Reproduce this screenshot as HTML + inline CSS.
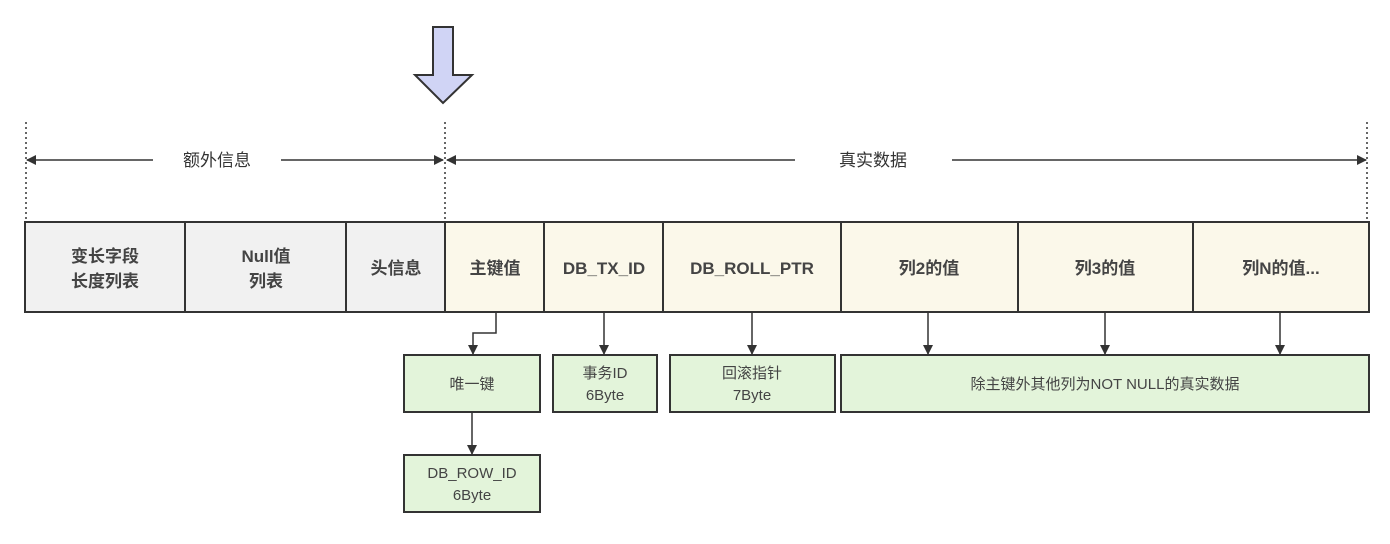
<!DOCTYPE html>
<html><head><meta charset="utf-8"><style>
body{margin:0;background:#fff;}
svg text{font-family:"Liberation Sans","Noto Sans CJK SC",sans-serif;}
</style></head><body>
<svg width="1390" height="539" viewBox="0 0 1390 539" xmlns="http://www.w3.org/2000/svg">
<defs><marker id="a" markerWidth="10" markerHeight="10" refX="9" refY="5" orient="auto" markerUnits="userSpaceOnUse"><path d="M0,0 L10,5 L0,10 Z" fill="#333"/></marker></defs>
<!-- big arrow -->
<path d="M433,27 L453,27 L453,75 L472,75 L443,103 L415,75 L433,75 Z" fill="#d0d4f5" stroke="#333" stroke-width="2"/>
<!-- dotted lines -->
<g stroke="#333" stroke-width="1.5" stroke-dasharray="2,3">
<line x1="26" y1="122" x2="26" y2="222"/><line x1="445" y1="122" x2="445" y2="222"/><line x1="1367" y1="122" x2="1367" y2="222"/>
</g>
<g stroke="#333" stroke-width="1.5" fill="none">
<line x1="153" y1="160" x2="27" y2="160" marker-end="url(#a)"/>
<line x1="281" y1="160" x2="443" y2="160" marker-end="url(#a)"/>
<line x1="795" y1="160" x2="447" y2="160" marker-end="url(#a)"/>
<line x1="952" y1="160" x2="1366" y2="160" marker-end="url(#a)"/>
</g>
<g font-size="17" fill="#333" text-anchor="middle">
<text x="217" y="166">额外信息</text><text x="873" y="166">真实数据</text>
</g>
<!-- top boxes -->
<g stroke="#333" stroke-width="2">
<rect x="25" y="222" width="160" height="90" fill="#f1f1f1"/>
<rect x="185" y="222" width="161" height="90" fill="#f1f1f1"/>
<rect x="346" y="222" width="99" height="90" fill="#f1f1f1"/>
<rect x="445" y="222" width="99" height="90" fill="#fbf8ea"/>
<rect x="544" y="222" width="119" height="90" fill="#fbf8ea"/>
<rect x="663" y="222" width="178" height="90" fill="#fbf8ea"/>
<rect x="841" y="222" width="177" height="90" fill="#fbf8ea"/>
<rect x="1018" y="222" width="175" height="90" fill="#fbf8ea"/>
<rect x="1193" y="222" width="176" height="90" fill="#fbf8ea"/>
</g>
<g font-size="17" font-weight="bold" fill="#444" text-anchor="middle">
<text x="105" y="262">变长字段</text><text x="105" y="287">长度列表</text>
<text x="266" y="262">Null值</text><text x="266" y="287">列表</text>
<text x="396" y="274">头信息</text><text x="495" y="274">主键值</text>
<text x="604" y="274">DB_TX_ID</text><text x="752" y="274">DB_ROLL_PTR</text>
<text x="929" y="274">列2的值</text><text x="1105" y="274">列3的值</text><text x="1281" y="274">列N的值...</text>
</g>
<!-- connectors -->
<g stroke="#333" stroke-width="1.5" fill="none">
<polyline points="496,312 496,333 473,333 473,354" marker-end="url(#a)"/>
<line x1="604" y1="312" x2="604" y2="354" marker-end="url(#a)"/>
<line x1="752" y1="312" x2="752" y2="354" marker-end="url(#a)"/>
<line x1="928" y1="312" x2="928" y2="354" marker-end="url(#a)"/>
<line x1="1105" y1="312" x2="1105" y2="354" marker-end="url(#a)"/>
<line x1="1280" y1="312" x2="1280" y2="354" marker-end="url(#a)"/>
<line x1="472" y1="412" x2="472" y2="454" marker-end="url(#a)"/>
</g>
<g stroke="#333" stroke-width="2" fill="#e3f4da">
<rect x="404" y="355" width="136" height="57"/>
<rect x="553" y="355" width="104" height="57"/>
<rect x="670" y="355" width="165" height="57"/>
<rect x="841" y="355" width="528" height="57"/>
<rect x="404" y="455" width="136" height="57"/>
</g>
<g font-size="15" fill="#444" text-anchor="middle">
<text x="472" y="389">唯一键</text>
<text x="605" y="378">事务ID</text><text x="605" y="400">6Byte</text>
<text x="752" y="378">回滚指针</text><text x="752" y="400">7Byte</text>
<text x="1105" y="389">除主键外其他列为NOT NULL的真实数据</text>
<text x="472" y="478">DB_ROW_ID</text><text x="472" y="500">6Byte</text>
</g>
</svg>
</body></html>
